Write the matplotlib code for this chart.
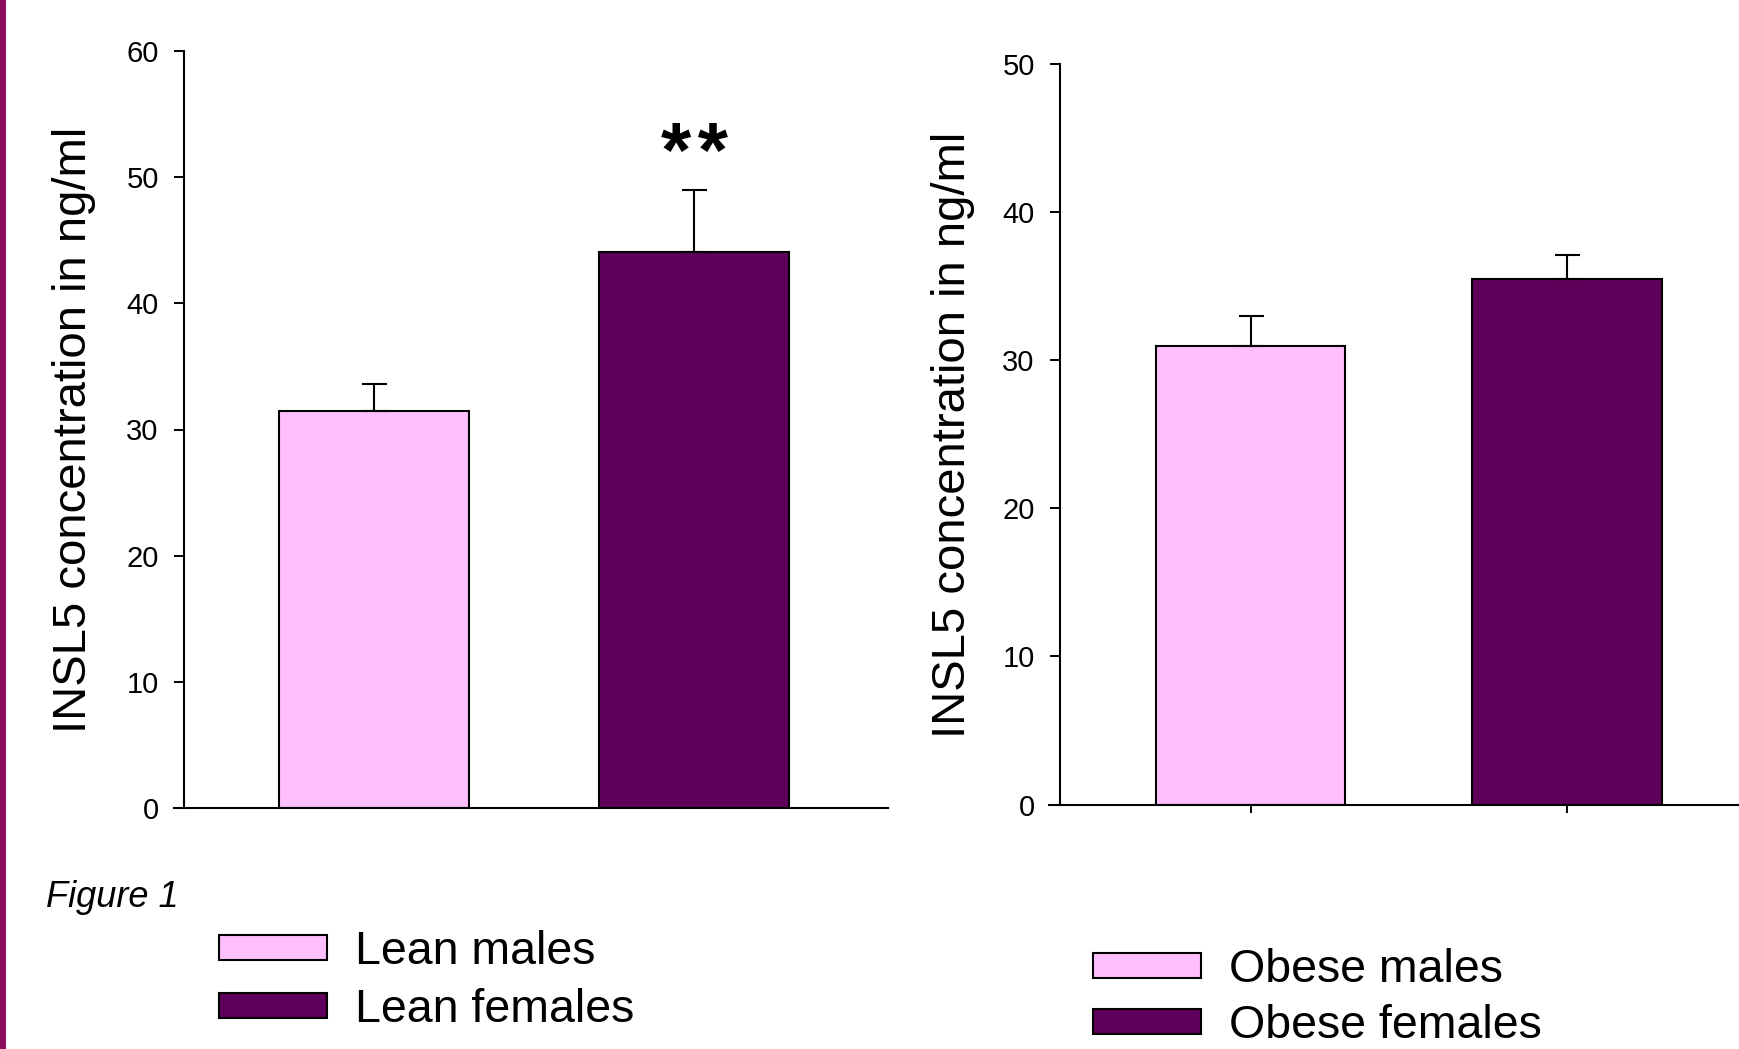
import matplotlib
matplotlib.use("Agg")
import matplotlib.pyplot as plt
from matplotlib.patches import Rectangle

plt.rcParams['font.family'] = ['Liberation Sans', 'DejaVu Sans']

# ---- data ----
lean_groups = ["Lean males", "Lean females"]
lean_means = [31.5, 44.1]
lean_sem = [2.1, 4.9]
obese_groups = ["Obese males", "Obese females"]
obese_means = [31.0, 35.5]
obese_sem = [2.0, 1.6]
lean_yticks = [0, 10, 20, 30, 40, 50, 60]
obese_yticks = [0, 10, 20, 30, 40, 50]
ylabel = "INSL5 concentration in ng/ml"
signif = "**"

pink = "#FFBFFF"
plum = "#5E0059"
colors = [pink, plum]

W, H = 1740, 1049
fig = plt.figure(figsize=(W / 100, H / 100), dpi=100)

# left purple strip
fig.patches.append(Rectangle((0, 0), 6 / W, 1, transform=fig.transFigure,
                             facecolor="#8C0B5E", edgecolor="none"))


def make_panel(rect, xlim, ylim, spine_frac, groups, means, sems, yticks, width, xticks):
    ax = fig.add_axes(rect)
    x = list(range(len(groups)))
    bars = ax.bar(x, means, width=width, color=colors, edgecolor="black",
                  linewidth=1.5, label=groups, zorder=2)
    ax.errorbar(x, means, yerr=[[0] * len(sems), sems], fmt="none",
                ecolor="black", elinewidth=1.5, capsize=9, capthick=1.5, zorder=3)
    ax.set_xlim(*xlim)
    ax.set_ylim(*ylim)
    ax.spines["top"].set_visible(False)
    ax.spines["right"].set_visible(False)
    ax.spines["left"].set_position(("axes", spine_frac))
    ax.spines["left"].set_bounds(ylim[0], ylim[1])
    for s in ("left", "bottom"):
        ax.spines[s].set_linewidth(1.5)
    ax.set_yticks(yticks)
    ax.set_yticklabels([str(t) for t in yticks])
    ax.tick_params(axis="y", labelsize=21, length=7.2, width=1.4, pad=11)
    if xticks:
        ax.set_xticks(x)
        ax.set_xticklabels([])
        ax.tick_params(axis="x", length=6, width=1.4, direction="out")
    else:
        ax.set_xticks([])
    ax.patch.set_visible(False)
    return ax, bars


ax1, bars1 = make_panel([174 / W, 1 - 808 / H, 714 / W, 757 / H],
                        (-0.625, 1.606), (0, 60), 10 / 714,
                        lean_groups, lean_means, lean_sem, lean_yticks, 0.594, False)
ax2, bars2 = make_panel([1049 / W, 1 - 804.5 / H, 691 / W, 740.1 / H],
                        (-0.637, 1.547), (0, 50), 11 / 691,
                        obese_groups, obese_means, obese_sem, obese_yticks, 0.6, True)

ax1.text(1, 51.6, "\u200a".join(signif), ha="center", va="center", fontsize=56,
         fontweight="bold", family=["Liberation Sans", "DejaVu Sans"])

fig.text(74 / W, 1 - 430 / H, ylabel, rotation=90, ha="center", va="center", fontsize=34)
fig.text(953 / W, 1 - 435 / H, ylabel, rotation=90, ha="center", va="center", fontsize=34)

fig.text(46 / W, 1 - 907 / H, "Figure 1", style="italic", ha="left", va="baseline", fontsize=26)

leg_kw = dict(loc="upper left", bbox_transform=fig.transFigure, frameon=False,
              fontsize=33.5, handlelength=2.32, handleheight=0.47, handletextpad=0.6,
              borderpad=0, borderaxespad=0)
ax1.legend(handles=list(bars1), labels=lean_groups, bbox_to_anchor=(219 / W, 1 - 930 / H),
           labelspacing=0.30, **leg_kw)
ax2.legend(handles=list(bars2), labels=obese_groups, bbox_to_anchor=(1093 / W, 1 - 948 / H),
           labelspacing=0.26, **leg_kw)

fig.savefig("out.png", dpi=100)
